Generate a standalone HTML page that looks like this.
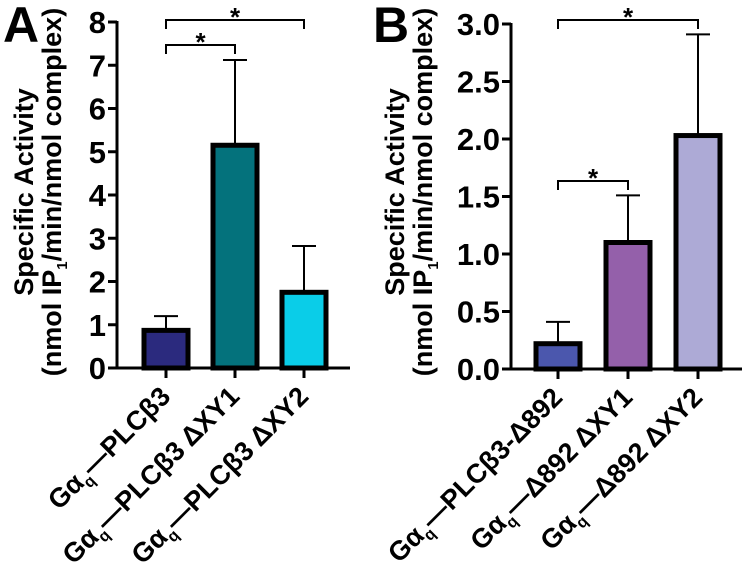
<!DOCTYPE html>
<html><head><meta charset="utf-8"><style>
html,body{margin:0;padding:0;background:#fff;}
svg{display:block;font-family:"Liberation Sans",sans-serif;font-weight:bold;}
</style></head><body>
<svg id="chart" width="748" height="585" viewBox="0 0 748 585" xmlns="http://www.w3.org/2000/svg"></svg>
<script>
const catsA = ["PLCβ3", "PLCβ3 ΔXY1", "PLCβ3 ΔXY2"];
const valsA = [0.87, 5.15, 1.75];
const errsA = [1.2, 7.12, 2.82];
const ticksA = [0,1,2,3,4,5,6,7,8];
const tickLabelsA = ["0","1","2","3","4","5","6","7","8"];
const colorsA = ["#2b2a7e","#04727c","#0acde8"];

const catsB = ["PLCβ3-Δ892", "Δ892  ΔXY1", "Δ892 ΔXY2"];
const valsB = [0.22, 1.1, 2.03];
const errsB = [0.41, 1.51, 2.91];
const ticksB = [0,0.5,1,1.5,2,2.5,3];
const tickLabelsB = ["0.0","0.5","1.0","1.5","2.0","2.5","3.0"];
const colorsB = ["#4b57ad","#9460aa","#adaad6"];

const NS = "http://www.w3.org/2000/svg";
const svg = document.getElementById("chart");
function mk(tag, attrs, parent){ const e=document.createElementNS(NS,tag); for(const k in attrs) e.setAttribute(k,attrs[k]); (parent||svg).appendChild(e); return e; }

function panel(cfg){
  const g = mk("g",{});
  
  
  const y = v => cfg.y0 - (v - 0) * (cfg.y0 - cfg.yTop) / cfg.yMax;
  const x = i => cfg.cx[i];
  const L = mk("text",{x:cfg.letterX,y:42,"font-size":50},g); L.textContent=cfg.letter;
  
  
  const t = mk("text",{transform:`translate(${cfg.titleX},192) rotate(-90)`,"text-anchor":"middle","font-size":27},g);
  
  
  const t1 = mk("tspan",{x:0,dy:0},t); t1.textContent="Specific Activity";
  const t2 = mk("tspan",{x:0,dy:28},t); t2.textContent="(nmol IP";
  const t3 = mk("tspan",{"font-size":15,dy:6},t); t3.textContent="1";
  const t4 = mk("tspan",{dy:-6},t); t4.textContent="/min/nmol complex)";
  cfg.vals.forEach((v,i)=>{
    const e = cfg.errs[i];
    const ln = mk("line",{x1:x(i),x2:x(i),y1:y(v),y2:y(e),stroke:"#000","stroke-width":2},g);
    
    
    const cap = mk("line",{x1:x(i)-12,x2:x(i)+12,y1:y(e),y2:y(e),stroke:"#000","stroke-width":2},g);
    
    
    const r = mk("rect",{x:x(i)-22,y:y(v),width:44,height:cfg.y0-y(v),fill:cfg.colors[i],stroke:"#000","stroke-width":5},g);
    
    
  });
  const ya = mk("line",{x1:cfg.ax,x2:cfg.ax,y1:cfg.yTop-1,y2:cfg.y0+1,stroke:"#000","stroke-width":3},g);
  
  
  const xa = mk("line",{x1:cfg.ax,x2:cfg.axEnd,y1:cfg.y0,y2:cfg.y0,stroke:"#000","stroke-width":3},g);
  
  
  cfg.ticks.forEach((tv,i)=>{
    const tk = mk("line",{x1:cfg.ax-9,x2:cfg.ax,y1:y(tv),y2:y(tv),stroke:"#000","stroke-width":3},g);
    
    
    const tl = mk("text",{x:cfg.ax-11,y:y(tv)+11,"text-anchor":"end","font-size":31},g);
    tl.textContent = cfg.tickLabels[i];
    
    
  });
  cfg.cats.forEach((c,i)=>{
    const tk = mk("line",{x1:x(i),x2:x(i),y1:cfg.y0,y2:cfg.y0+10,stroke:"#000","stroke-width":3},g);
    
    
    const tl = mk("text",{transform:`translate(${x(i)+6},${cfg.y0+30}) rotate(-45)`,"text-anchor":"end","font-size":27},g);
    
    
    const a = mk("tspan",{},tl); a.textContent="Gα";
    const b = mk("tspan",{"font-size":16,dy:6},tl); b.textContent="q";
    const d = mk("tspan",{dy:-6},tl); d.textContent="\u2014"+c;
  });
  cfg.brackets.forEach(br=>{
    const p = mk("path",{d:`M${x(br[0])},${br[2]+9} V${br[2]} H${x(br[1])} V${br[2]+9}`,fill:"none",stroke:"#000","stroke-width":2},g);
    
    
    const s = mk("text",{x:(x(br[0])+x(br[1]))/2,y:br[2]+6,"text-anchor":"middle","font-size":26},g);
    s.textContent="*";
    
    
  });
}
panel({name:"panel-a",letter:"A",letterX:3,titleX:33,ax:117,axEnd:350,y0:368,yTop:22,yMax:8,cx:[166,235,304],
  cats:catsA,vals:valsA,errs:errsA,ticks:ticksA,tickLabels:tickLabelsA,colors:colorsA,
  brackets:[[0,1,45],[0,2,20]]});
panel({name:"panel-b",letter:"B",letterX:373,titleX:404,ax:511,axEnd:742,y0:369,yTop:24,yMax:3,cx:[558,628,698],
  cats:catsB,vals:valsB,errs:errsB,ticks:ticksB,tickLabels:tickLabelsB,colors:colorsB,
  brackets:[[0,1,181],[0,2,20]]});
</script>
</body></html>
